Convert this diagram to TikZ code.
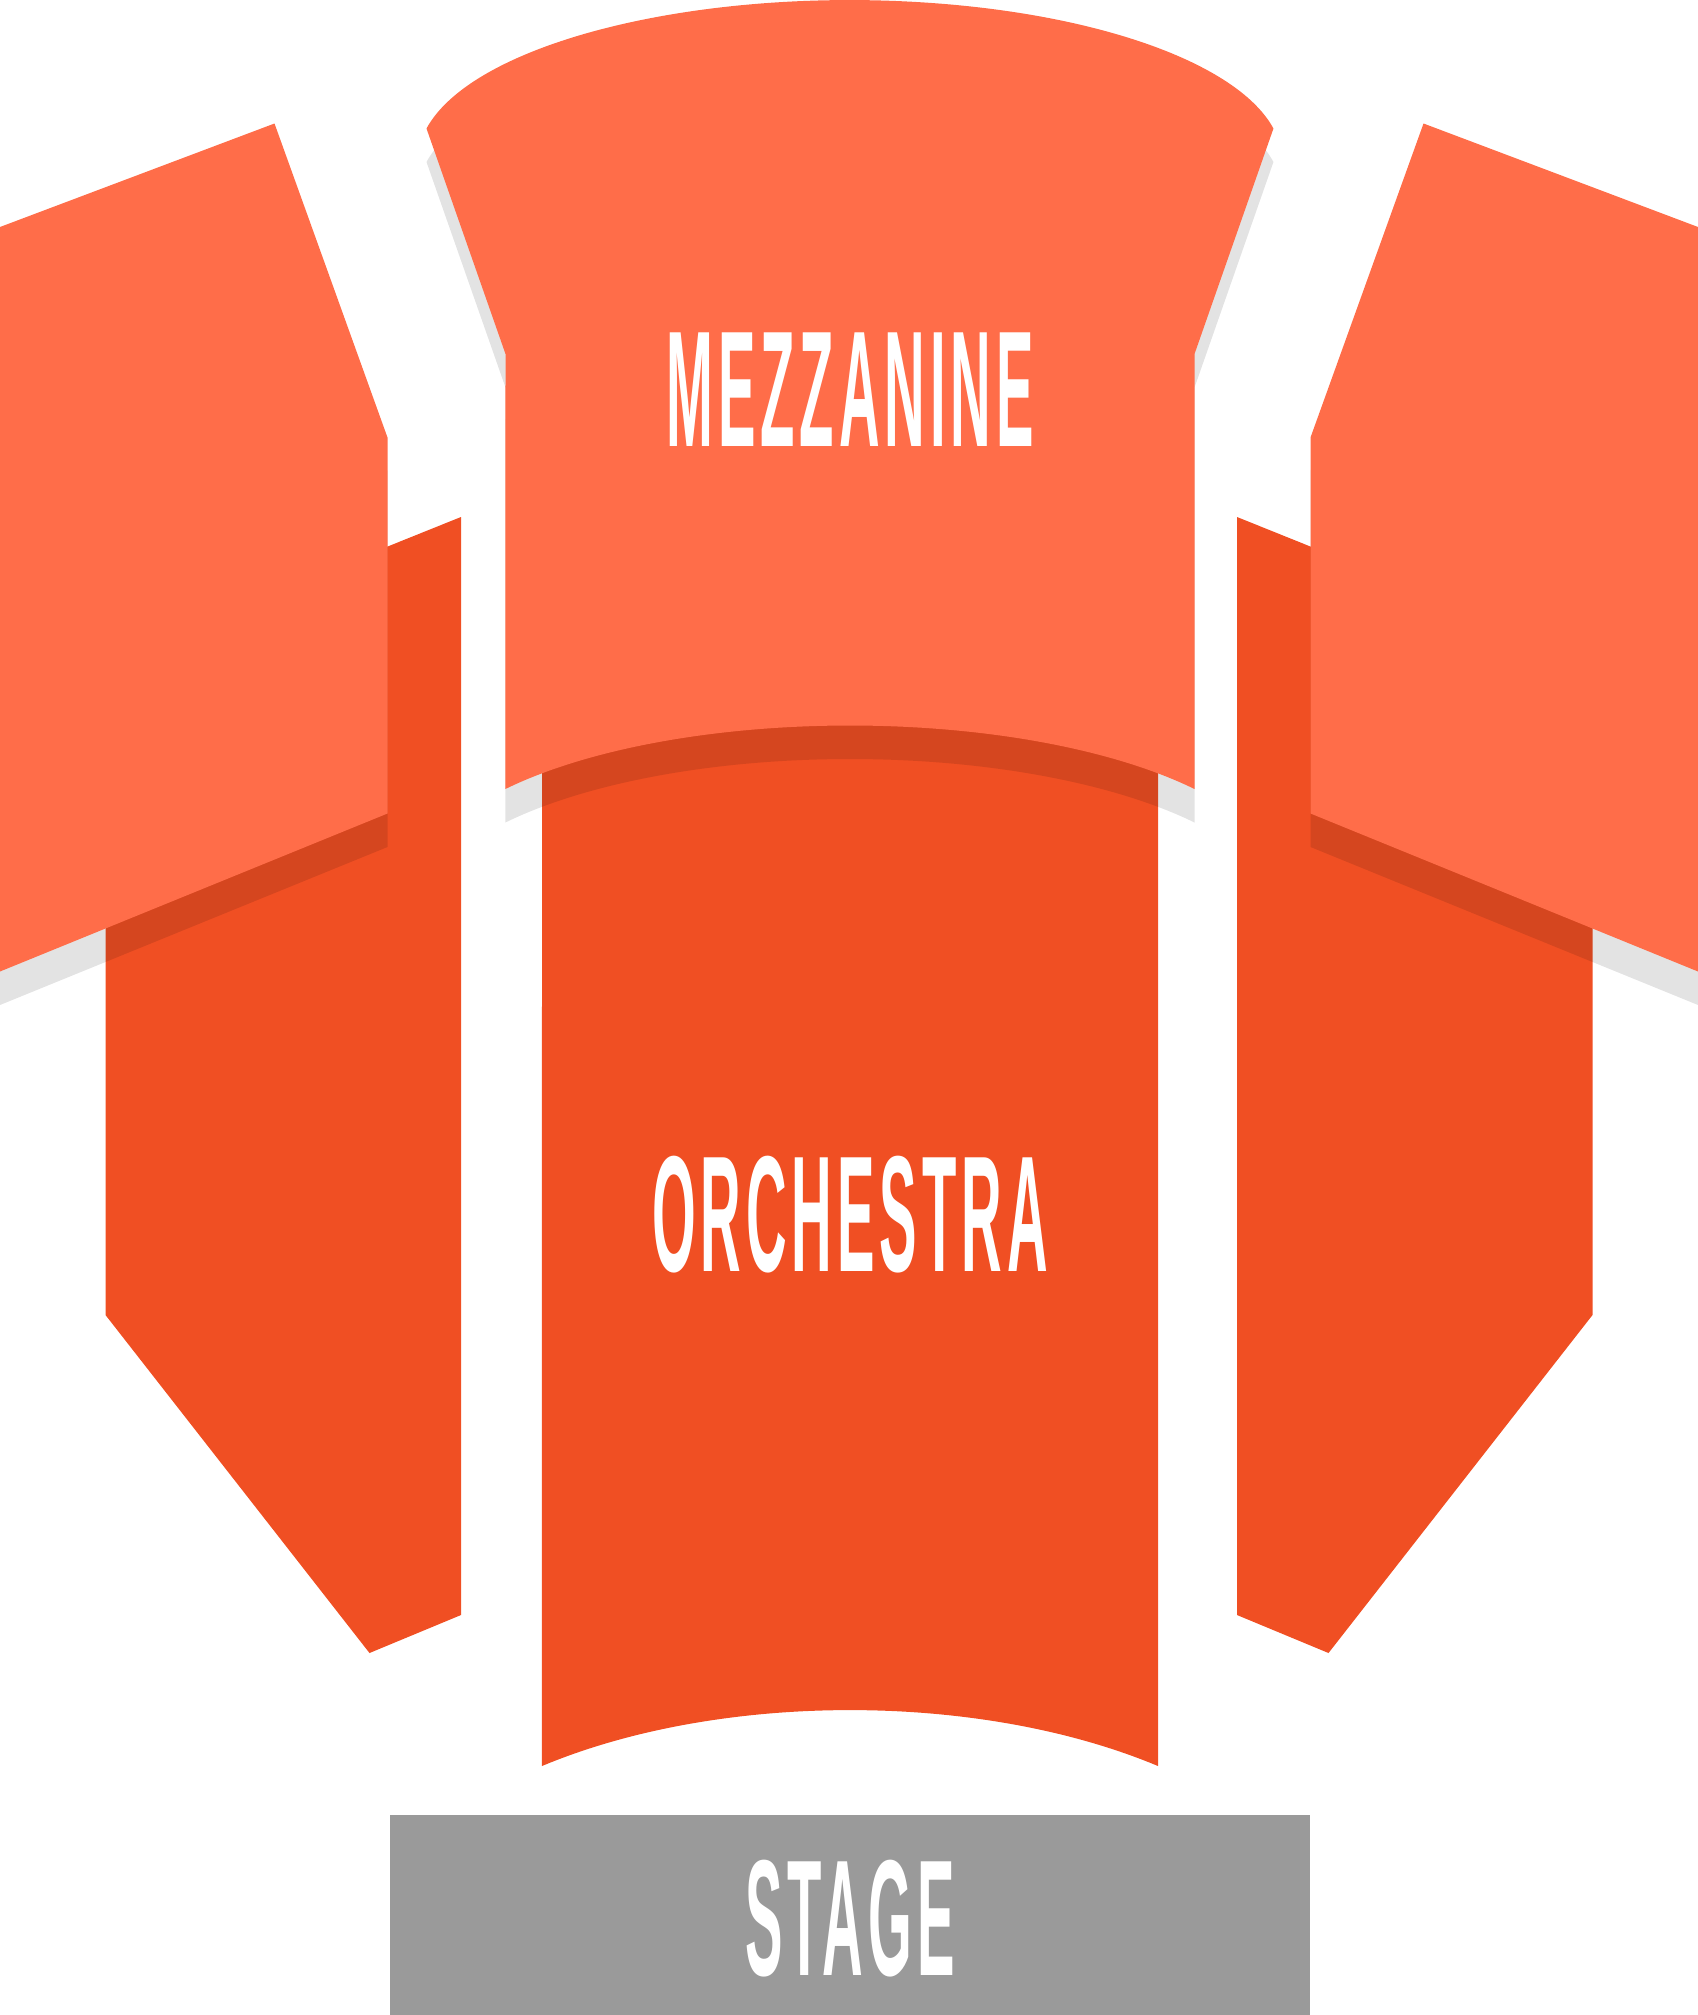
\documentclass[tikz,border=0pt]{standalone}
\usepackage{fontspec}
\usetikzlibrary{positioning}
\newfontfamily\seatfont[FakeStretch=0.34, LetterSpace=3]{Liberation Sans}
\definecolor{mezzorange}{HTML}{FF6D49}
\definecolor{orchorange}{HTML}{F04F23}
\definecolor{stagegray}{HTML}{9A9A9A}

\begin{document}
\begin{tikzpicture}[x=0.01cm, y=0.01cm,
		lowerblock/.style={fill=orchorange},
		upperblock/.style={fill=mezzorange},
		shadowband/.style={fill=black, fill opacity=0.11},
		seatlabel/.style={text=white, inner sep=0pt, anchor=base,
			font=\seatfont\bfseries\fontsize{47}{50}\selectfont}]

			\useasboundingbox (0,0) rectangle (1698,-2015);
			\clip (0,0) rectangle (1698,-2015);

			% Draw the orchestra side blocks
			\fill[lowerblock] (105.5,-660) -- (461,-517) -- (461,-1615) -- (369.5,-1653) -- (105.5,-1315) -- cycle;
			\fill[lowerblock] (1698-105.5,-660) -- (1698-461,-517) -- (1698-461,-1615) -- (1698-369.5,-1653) -- (1698-105.5,-1315) -- cycle;

			% Draw the orchestra centre block
			\fill[lowerblock] (542,-700) -- (1158,-700) -- (1158,-1766)
				arc[start angle=50.08, end angle=129.92, x radius=480, y radius=240] -- cycle;

			% Draw the shadows of the mezzanine blocks
			\begin{scope}[shift={(0,-33.5)}]
				\fill[shadowband] (0,-227) -- (274.5,-123.5) -- (387.5,-437.5) -- (387.5,-813.5) -- (0,-971.5) -- cycle;
				\fill[shadowband] (1698-0,-227) -- (1698-274.5,-123.5) -- (1698-387.5,-437.5) -- (1698-387.5,-813.5) -- (1698-0,-971.5) -- cycle;
				\fill[shadowband] (426.5,-128.5)
					arc[start angle=168.61, end angle=11.39, x radius=432, y radius=160]
					-- (1194.5,-354) -- (1194.5,-789)
					arc[start angle=37.1, end angle=142.9, x radius=432, y radius=160]
					-- (505.5,-354) -- cycle;
			\end{scope}

			% Draw the mezzanine side blocks
			\fill[upperblock] (0,-227) -- (274.5,-123.5) -- (387.5,-437.5) -- (387.5,-813.5) -- (0,-971.5) -- cycle;
			\fill[upperblock] (1698-0,-227) -- (1698-274.5,-123.5) -- (1698-387.5,-437.5) -- (1698-387.5,-813.5) -- (1698-0,-971.5) -- cycle;

			% Draw the mezzanine centre block
			\fill[upperblock] (426.5,-128.5)
				arc[start angle=168.61, end angle=11.39, x radius=432, y radius=160]
				-- (1194.5,-354) -- (1194.5,-789)
				arc[start angle=37.1, end angle=142.9, x radius=432, y radius=160]
				-- (505.5,-354) -- cycle;

			% Draw the stage
			\fill[stagegray] (389.5,-1815) rectangle (1310,-2015);

			\node[seatlabel] (mezzlabel) at (850,-446.5) {MEZZANINE};
			\node[seatlabel] (orchlabel) at (850,-1271) {ORCHESTRA};
			\node[seatlabel] (stagelabel) at (850,-1975) {STAGE};

		\end{tikzpicture}
\end{document}
